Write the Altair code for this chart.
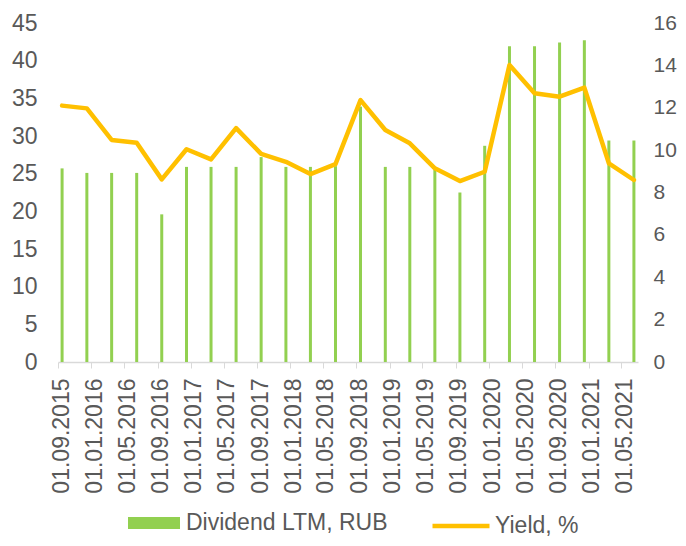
import altair as alt
import pandas as pd

# quarterly observations (month of the observation)
months = ["2015-09", "2015-12", "2016-03", "2016-06", "2016-09", "2016-12",
          "2017-03", "2017-06", "2017-09", "2017-12", "2018-03", "2018-06",
          "2018-09", "2018-12", "2019-03", "2019-06", "2019-09", "2019-12",
          "2020-03", "2020-06", "2020-09", "2020-12", "2021-03", "2021-06"]
dividend = [25.7, 25.1, 25.1, 25.1, 19.6, 25.9, 25.9, 25.9, 27.2, 25.9, 25.9, 26.0,
            33.9, 25.9, 25.9, 25.5, 22.5, 28.7, 41.9, 41.9, 42.4, 42.7, 29.4, 29.4]
yield_pct = [12.1, 11.97, 10.48, 10.35, 8.62, 10.04, 9.56, 11.04, 9.82, 9.45, 8.87, 9.34,
             12.36, 10.95, 10.32, 9.14, 8.54, 8.98, 14.02, 12.68, 12.52, 12.95, 9.38, 8.59]

# axis tick dates (every 4 months)
tick_years = [2015, 2016, 2016, 2016, 2017, 2017, 2017, 2018, 2018, 2018,
              2019, 2019, 2019, 2020, 2020, 2020, 2021, 2021]
tick_months = [9, 1, 5, 9, 1, 5, 9, 1, 5, 9, 1, 5, 9, 1, 5, 9, 1, 5]

bar_name = "Dividend LTM, RUB"
line_name = "Yield, %"

df = pd.DataFrame({
    "date": pd.to_datetime(months) + pd.Timedelta(days=15),
    "dividend": dividend,
    "yield": yield_pct,
})
df["bar_series"] = bar_name
df["line_series"] = line_name

GREY = "#595959"
FONT = "Liberation Sans"
FS = 23

x_enc = alt.X(
    "date:T",
    scale=alt.Scale(domain=[alt.DateTime(year=2015, month=9, date=1),
                            alt.DateTime(year=2021, month=7, date=1)],
                    padding=0, nice=False),
    axis=alt.Axis(
        title=None,
        values=[alt.DateTime(year=y, month=m, date=1) for y, m in zip(tick_years, tick_months)],
        format="%d.%m.%Y",
        labelAngle=270,
        labelOffset=3,
        labelPadding=10,
        tickSize=6,
        tickColor="#D9D9D9",
        domainColor="#D9D9D9",
        domainWidth=1.3,
        labelFont=FONT,
        labelFontSize=FS,
        labelColor=GREY,
        grid=False,
    ),
)

bars = alt.Chart(df).mark_bar(size=3).encode(
    x=x_enc,
    y=alt.Y("dividend:Q",
            scale=alt.Scale(domain=[0, 45], nice=False),
            axis=alt.Axis(title=None, orient="left", values=list(range(0, 46, 5)),
                          ticks=False, tickSize=0, domain=False, grid=False,
                          labelPadding=21, labelFont=FONT, labelFontSize=FS,
                          labelColor=GREY)),
    color=alt.Color("bar_series:N",
                    scale=alt.Scale(domain=[bar_name], range=["#92D050"]),
                    legend=alt.Legend(title=None, orient="none", legendX=70, legendY=474,
                                      symbolType="M-1,-0.23H1V0.23H-1Z",
                                      symbolSize=2704, symbolStrokeWidth=0,
                                      labelFont=FONT, labelFontSize=FS, labelColor=GREY,
                                      labelOffset=6, labelLimit=0, padding=0)),
)

line = alt.Chart(df).mark_line(strokeWidth=4.5, strokeCap="round", strokeJoin="round").encode(
    x=x_enc,
    y=alt.Y("yield:Q",
            scale=alt.Scale(domain=[0, 16], nice=False),
            axis=alt.Axis(title=None, orient="right", values=list(range(0, 17, 2)),
                          ticks=False, tickSize=0, domain=False, grid=False,
                          labelPadding=15, labelFont=FONT, labelFontSize=21,
                          labelColor=GREY)),
    stroke=alt.Stroke("line_series:N",
                      scale=alt.Scale(domain=[line_name], range=["#FFC000"]),
                      legend=alt.Legend(title=None, orient="none", legendX=372, legendY=472,
                                        symbolType="stroke", symbolSize=3249,
                                        symbolStrokeWidth=4.5,
                                        labelFont=FONT, labelFontSize=FS, labelColor=GREY,
                                        labelOffset=3, labelLimit=0, padding=0)),
)

chart = alt.layer(bars, line).resolve_scale(y="independent").properties(
    width=580, height=339,
    autosize=alt.AutoSizeParams(type="none"),
    padding={"left": 50, "top": 15, "right": 40, "bottom": 176},
).configure_view(stroke=None)

chart.save("out.html", embed_options={"renderer": "svg", "actions": False})
